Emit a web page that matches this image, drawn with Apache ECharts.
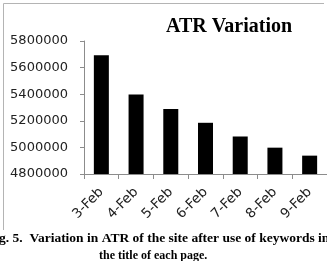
<!DOCTYPE html>
<html>
<head>
    <meta charset="UTF-8">
    <title>ATR Variation</title>
    <script src="https://cdn.jsdelivr.net/npm/echarts@6/dist/echarts.min.js"></script>
    <style>
        html, body { margin: 0; padding: 0; background: #fff; }
    </style>
</head>
<body>
    <div id="main" style="width:327px;height:261px;"></div>
    <script>
        // data
        var dates = ['3-Feb', '4-Feb', '5-Feb', '6-Feb', '7-Feb', '8-Feb', '9-Feb'];
        var atr = [5693000, 5398000, 5288000, 5185000, 5082000, 4998000, 4938000];
        var yMin = 4800000;
        var yMax = 5800000;
        var yStep = 200000;
        // caption of the figure (cropped at both sides in the original)
        var captionLine1 = 'g. 5.  Variation in ATR of the site after use of keywords in';
        var captionLine2 = 'the title of each page.';

        var myChart = echarts.init(document.getElementById('main'));

        var option = {
            animation: false,
            title: {
                text: 'ATR Variation',
                left: 166,
                top: 17,
                padding: 0,
                textStyle: {
                    fontFamily: 'Liberation Serif',
                    fontWeight: 'bold',
                    fontSize: 20,
                    color: '#000'
                }
            },
            // frame of the pasted chart + figure caption
            graphic: [
                {
                    type: 'polyline',
                    shape: { points: [[3.5, 230], [3.5, 3.5], [324, 3.5]] },
                    style: { stroke: '#b4b4b4', lineWidth: 1, fill: null }
                },
                {
                    type: 'text',
                    left: -1,
                    top: 232,
                    style: {
                        text: captionLine1,
                        font: 'bold 13.5px "Liberation Serif"',
                        fill: '#000'
                    }
                },
                {
                    type: 'text',
                    left: 99,
                    top: 250,
                    style: {
                        text: captionLine2,
                        font: 'bold 12px "Liberation Serif"',
                        fill: '#000'
                    }
                }
            ],
            grid: {
                left: 84,
                top: 41,
                width: 252,
                height: 133
            },
            xAxis: {
                type: 'category',
                data: dates,
                axisLine: { lineStyle: { color: '#8c8c8c' } },
                axisTick: { show: true, length: 5, lineStyle: { color: '#8c8c8c' } },
                axisLabel: {
                    rotate: 45,
                    margin: 16,
                    fontFamily: 'DejaVu Sans',
                    fontSize: 13.5,
                    color: '#222'
                }
            },
            yAxis: {
                type: 'value',
                min: yMin,
                max: yMax,
                interval: yStep,
                splitLine: { show: false },
                axisLine: { show: true, lineStyle: { color: '#8c8c8c' } },
                axisTick: { show: true, length: 4, lineStyle: { color: '#8c8c8c' } },
                axisLabel: {
                    margin: 16,
                    fontFamily: 'DejaVu Sans',
                    fontSize: 13,
                    color: '#222',
                    formatter: function (v) { return String(v); }
                }
            },
            series: [{
                type: 'bar',
                data: atr,
                barWidth: 15,
                itemStyle: { color: '#000' }
            }]
        };

        myChart.setOption(option);
    </script>
</body>
</html>
